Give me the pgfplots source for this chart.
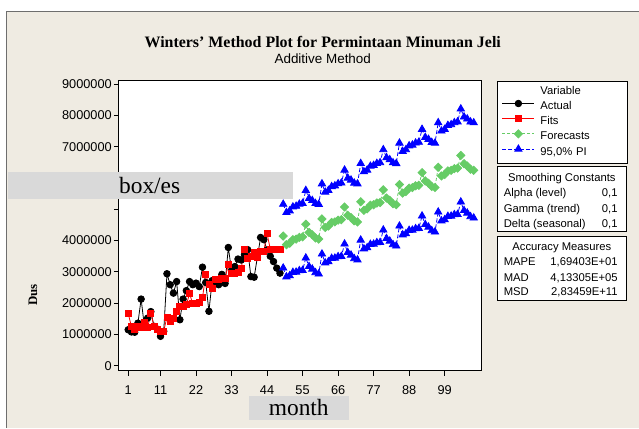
\documentclass[border=0pt]{standalone}
\usepackage{fontspec}
\setmainfont{Liberation Serif}
\setsansfont{Liberation Sans}
\usepackage{pgfplots}
\usepackage{pgfplotstable}
\pgfplotsset{compat=1.18}
\definecolor{beige}{HTML}{EFEBE2}
\definecolor{boxgray}{HTML}{D9D9D9}
\definecolor{fgreen}{HTML}{66CC66}
\definecolor{framegray}{HTML}{6E6E6E}
\newcommand{\lfont}{\sffamily\fontsize{11.3}{13}\selectfont}
\newcommand{\tfont}{\sffamily\fontsize{12.8}{14}\selectfont}

\pgfplotstableread{
t v
1 1150000
2 1080000
3 1070000
4 1360000
5 2130000
6 1270000
7 1520000
8 1730000
9 1260000
10 1170000
11 940000
12 1100000
13 2940000
14 2590000
15 2320000
16 2690000
17 1470000
18 2130000
19 2400000
20 2690000
21 2590000
22 2640000
23 2530000
24 3150000
25 2660000
26 1740000
27 2720000
28 2690000
29 2590000
30 2920000
31 2630000
32 3780000
33 3050000
34 3170000
35 3410000
36 3380000
37 3550000
38 3710000
39 2850000
40 2830000
41 3470000
42 4100000
43 4030000
44 3700000
45 3500000
46 3330000
47 3120000
48 2960000
}\actual

\pgfplotstableread{
t v
1 1660000
2 1260000
3 1170000
4 1260000
5 1210000
6 1380000
7 1210000
8 1680000
9 1260000
10 1150000
11 1100000
12 1100000
13 1560000
14 1420000
15 1520000
16 1730000
17 1900000
18 1900000
19 1950000
20 2300000
21 1980000
22 2000000
23 2040000
24 2170000
25 2910000
26 2600000
27 2480000
28 2750000
29 2750000
30 2780000
31 2800000
32 3230000
33 2960000
34 2960000
35 2970000
36 3120000
37 3710000
38 3440000
39 3490000
40 3620000
41 3470000
42 3650000
43 3670000
44 4220000
45 3730000
46 3720000
47 3720000
48 3720000
}\fits

\pgfplotstableread{
t F U L
49 4144000 5164000 3124000
50 3870000 4899000 2842000
51 3916000 4953000 2879000
52 4032000 5078000 2987000
53 4047000 5101000 2993000
54 4103000 5166000 3041000
55 4119000 5190000 3048000
56 4525000 5605000 3446000
57 4261000 5349000 3173000
58 4186000 5283000 3090000
59 4082000 5187000 2977000
60 4048000 5162000 2935000
61 4694000 5816000 3572000
62 4420000 5551000 3290000
63 4465000 5604000 3326000
64 4581000 5729000 3434000
65 4597000 5753000 3441000
66 4653000 5818000 3489000
67 4669000 5842000 3496000
68 5074000 6256000 3893000
69 4810000 6000000 3620000
70 4736000 5935000 3538000
71 4632000 5839000 3425000
72 4598000 5814000 3383000
73 5243000 6467000 4019000
74 4969000 6202000 3737000
75 5015000 6256000 3774000
76 5131000 6381000 3882000
77 5147000 6405000 3889000
78 5202000 6469000 3936000
79 5218000 6493000 3943000
80 5624000 6908000 4341000
81 5360000 6652000 4068000
82 5286000 6587000 3986000
83 5181000 6490000 3872000
84 5147000 6465000 3830000
85 5793000 7119000 4467000
86 5519000 6854000 4185000
87 5565000 6908000 4222000
88 5680000 7032000 4329000
89 5696000 7056000 4336000
90 5752000 7121000 4384000
91 5768000 7145000 4391000
92 6174000 7560000 4789000
93 5909000 7303000 4515000
94 5835000 7238000 4433000
95 5731000 7142000 4320000
96 5697000 7117000 4278000
97 6343000 7771000 4915000
98 6068000 7505000 4632000
99 6114000 7559000 4669000
100 6230000 7684000 4777000
101 6246000 7708000 4784000
102 6302000 7773000 4832000
103 6317000 7796000 4838000
104 6723000 8211000 5236000
105 6459000 7955000 4963000
106 6385000 7890000 4881000
107 6281000 7794000 4768000
108 6246000 7768000 4725000
}\fcst

\begin{document}
\begin{tikzpicture}[x=1bp,y=1bp]
\fill[white] (0,0) rectangle (639,428);
\fill[beige] (6,0) rectangle (639,417);
\draw[framegray, line width=1bp] (6.5,0) -- (6.5,416.5) -- (639,416.5);
\useasboundingbox (0,0) rectangle (639,428);

\node[font=\rmfamily\bfseries\fontsize{16}{19}\selectfont] at (323,386) {Winters' Method Plot for Permintaan Minuman Jeli};
\node[font=\sffamily\fontsize{13.5}{15}\selectfont] at (323,369) {Additive Method};

\begin{axis}[
  at={(119bp,57bp)}, anchor=south west,
  scale only axis, width=363bp, height=290bp,
  xmin=-1.88, xmax=110.45, ymin=-160000, ymax=9105000,
  axis background/.style={fill=white},
  xtick={1,11,22,33,44,55,66,77,88,99},
  xticklabels={1,11,22,33,44,55,66,77,88,99},
  ytick={0,1000000,2000000,3000000,4000000,5000000,6000000,7000000,8000000,9000000},
  yticklabels={0,1000000,2000000,3000000,4000000,,6000000,7000000,8000000,9000000},
  scaled y ticks=false,
  tick align=outside, tick pos=left, major tick length=5bp,
  every tick/.style={black, line width=0.8bp},
  axis line style={black, line width=1bp},
  ticklabel style={font=\tfont},
  xticklabel style={inner sep=0pt, yshift=-10bp},
  yticklabel style={inner sep=0pt, xshift=-2bp},
  legend image code/.code={\path (0bp,3.5bp) -- (32bp,3.5bp); \draw[overlay,mark repeat=2,mark phase=2,#1] plot coordinates {(0bp,3.5bp) (16bp,3.5bp) (32bp,3.5bp)};},
  legend style={at={(1.0413,1)}, anchor=north west, draw=black, line width=0.8bp, fill=white,
    font=\lfont, inner xsep=5bp, inner ysep=5bp, row sep=4.2bp,
    nodes={inner sep=0pt, text height=8bp, text depth=3bp, text width=82bp, align=left},
    /tikz/every odd column/.append style={column sep=5.7bp}},
  legend cell align=left,
]
\addlegendimage{empty legend}
\addlegendentry{Variable}
\addplot[black, line width=0.8bp, mark=*, mark size=3.3bp] table[x=t,y=v] {\actual};
\addlegendentry{Actual}
\addplot[red, line width=0.8bp, mark=square*, mark size=3bp] table[x=t,y=v] {\fits};
\addlegendentry{Fits}
\addplot[fgreen, line width=0.8bp, dash pattern=on 3bp off 2bp, mark=square*, mark size=2.9bp, mark options={solid, rotate=45}] table[x=t,y=F] {\fcst};
\addlegendentry{Forecasts}
\addplot[blue, line width=0.8bp, dash pattern=on 4bp off 2bp, mark=triangle*, mark size=4.2bp, mark options={solid}] table[x=t,y=U] {\fcst};
\addlegendentry{95,0\% PI}
\addplot[blue, line width=0.8bp, dash pattern=on 4bp off 2bp, mark=triangle*, mark size=4.2bp, mark options={solid}, forget plot] table[x=t,y=L] {\fcst};
\end{axis}

\node[font=\rmfamily\bfseries\fontsize{13}{15}\selectfont, rotate=90] at (33,133) {Dus};

\fill[boxgray] (8,229) rectangle (293,256);
\node[anchor=west, inner sep=0pt, font=\rmfamily\fontsize{23.5}{26}\selectfont] at (119,242.5) {box/es};
\fill[boxgray] (249,8) rectangle (349,32);
\node[inner sep=0pt, font=\rmfamily\fontsize{23.5}{26}\selectfont] at (299,20) {month};

% Smoothing constants box
\draw[black, line width=0.8bp, fill=white] (497.3,196.3) rectangle (627.3,261.3);
\node[anchor=base, inner sep=0pt, font=\lfont] at (562.3,246.7) {Smoothing Constants};
\node[anchor=base west, inner sep=0pt, font=\lfont] at (504,231.3) {Alpha (level)};
\node[anchor=base east, inner sep=0pt, font=\lfont] at (618.3,231.3) {0,1};
\node[anchor=base west, inner sep=0pt, font=\lfont] at (504,215.7) {Gamma (trend)};
\node[anchor=base east, inner sep=0pt, font=\lfont] at (618.3,215.7) {0,1};
\node[anchor=base west, inner sep=0pt, font=\lfont] at (504,200.7) {Delta (seasonal)};
\node[anchor=base east, inner sep=0pt, font=\lfont] at (618.3,200.7) {0,1};

% Accuracy measures box
\draw[black, line width=0.8bp, fill=white] (497.3,127) rectangle (627.3,191.3);
\node[anchor=base, inner sep=0pt, font=\lfont] at (562.3,177.3) {Accuracy Measures};
\node[anchor=base west, inner sep=0pt, font=\lfont] at (504,162.3) {MAPE};
\node[anchor=base east, inner sep=0pt, font=\lfont] at (618.3,162.3) {1,69403E+01};
\node[anchor=base west, inner sep=0pt, font=\lfont] at (504,146.7) {MAD};
\node[anchor=base east, inner sep=0pt, font=\lfont] at (618.3,146.7) {4,13305E+05};
\node[anchor=base west, inner sep=0pt, font=\lfont] at (504,132.3) {MSD};
\node[anchor=base east, inner sep=0pt, font=\lfont] at (618.3,132.3) {2,83459E+11};
\end{tikzpicture}
\end{document}
